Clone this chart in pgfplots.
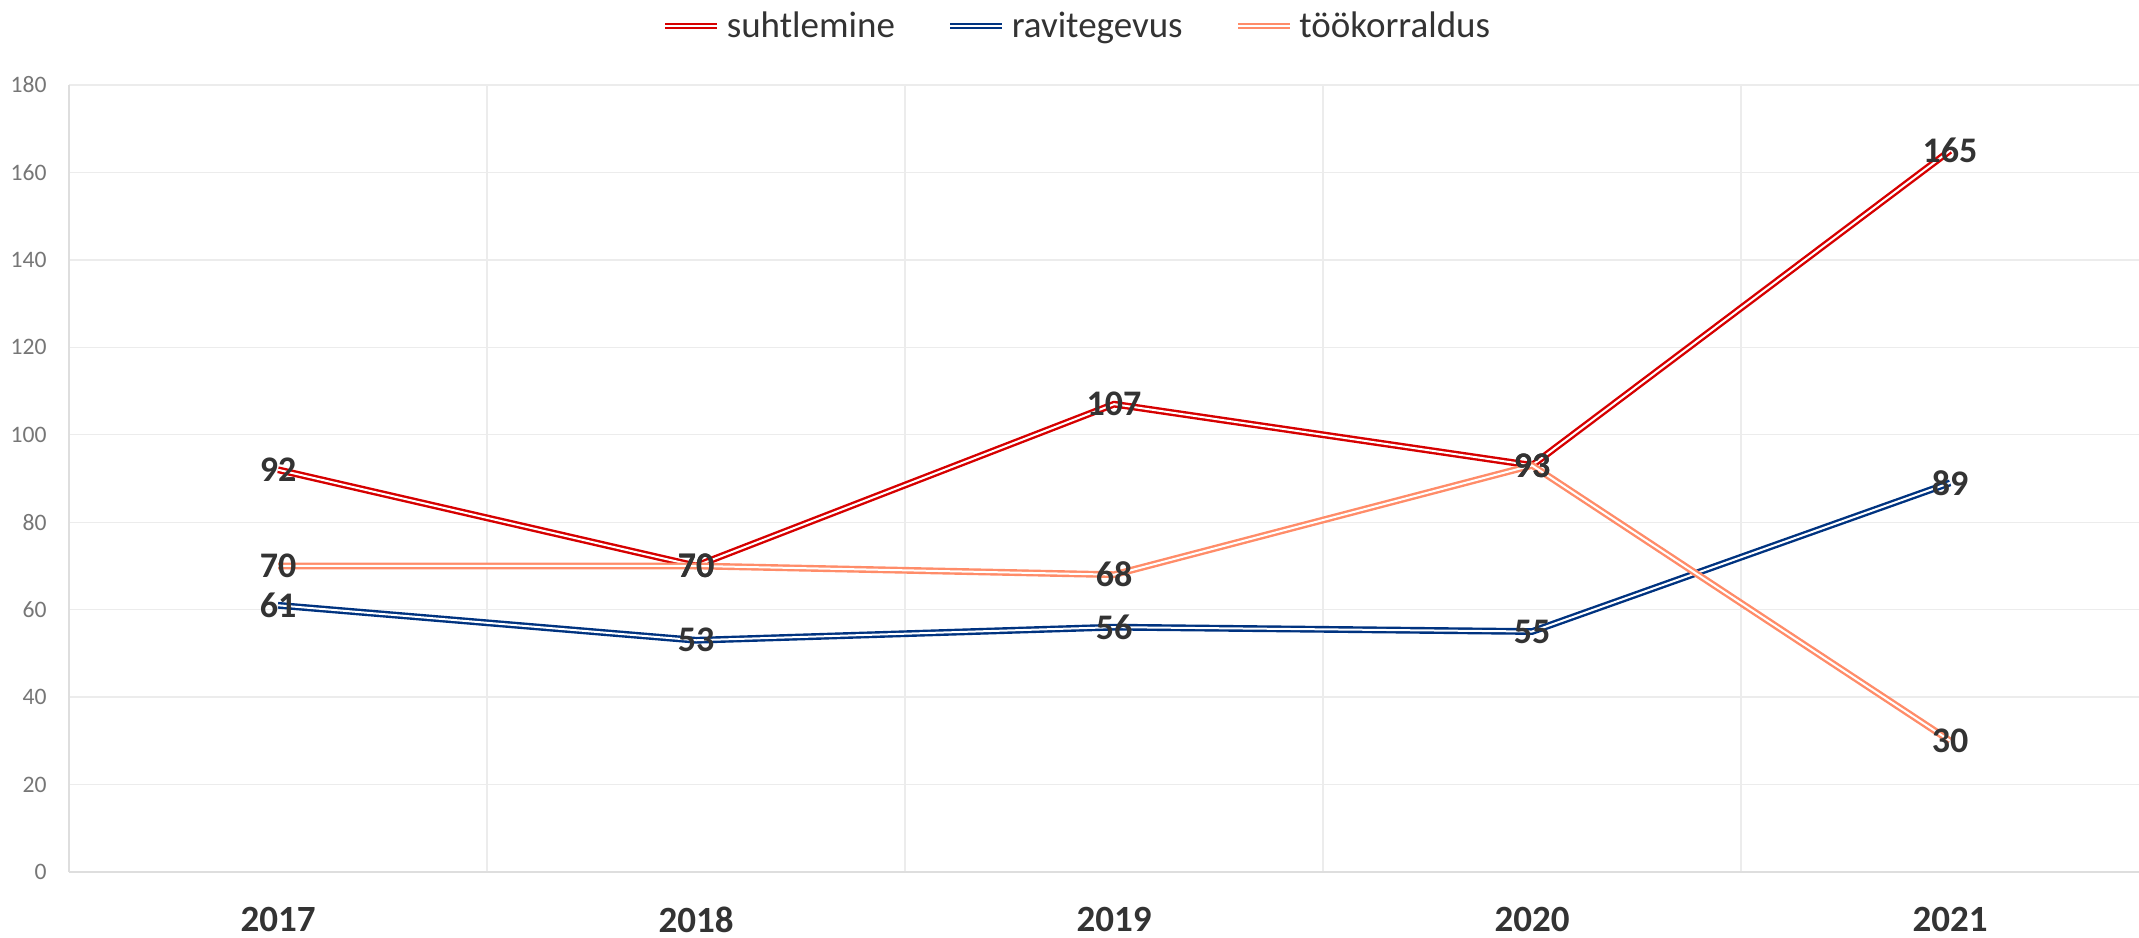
\documentclass[border=0pt]{standalone}
\usepackage{fontspec}
\setmainfont{Carlito}
\usepackage{pgfplots}
\pgfplotsset{compat=1.18}
\usepackage{pgfplotstable}

\definecolor{cRed}{RGB}{214,0,0}
\definecolor{cBlue}{RGB}{0,51,128}
\definecolor{cSalmon}{RGB}{255,140,105}
\definecolor{labelgray}{RGB}{51,51,51}
\definecolor{tickgray}{RGB}{118,118,118}
\definecolor{gridgray}{RGB}{236,236,236}
\definecolor{axisgray}{RGB}{222,222,222}

\pgfplotstableread{
x suht ravi took
0 92 61 70
1 70 53 70
2 107 56 68
3 93 55 93
4 165 89 30
}\datatable

\begin{document}
\begin{tikzpicture}
\begin{axis}[
  at={(0,0)}, anchor=south west,
  scale only axis,
  width=1035bp, height=393.5bp,
  xmin=-0.5, xmax=4.452,
  ymin=0, ymax=180,
  ytick={0,20,...,180},
  xtick={0,1,2,3,4},
  xticklabels={2017,2018,2019,2020,2021},
  minor xtick={0.5,1.5,2.5,3.5},
  xminorgrids=true,
  ymajorgrids=true,
  major grid style={draw=gridgray, line width=0.7bp},
  minor grid style={draw=gridgray, line width=0.7bp},
  axis x line*=bottom, axis y line*=left,
  axis line style={draw=axisgray, line width=0.8bp, -},
  major tick length=0pt, minor tick length=0pt,
  /pgf/number format/assume math mode=true,
  yticklabel style={font=\fontsize{11.8bp}{12bp}\selectfont, text=tickgray, anchor=east, inner sep=0pt, xshift=-11bp},
  xticklabel style={font=\bfseries\fontsize{18.5bp}{18.5bp}\selectfont, text=labelgray, anchor=north, inner sep=0pt, yshift=-17.5bp},
  clip=false,
  legend style={at={(rel axis cs:0.4865,1.075)}, anchor=center, draw=none, fill=none,
    font=\fontsize{18.5bp}{18.5bp}\selectfont, text=labelgray,
    /tikz/every odd column/.style={column sep=3bp},
    /tikz/every even column/.style={column sep=26bp},
    nodes={inner sep=0pt}},
  legend columns=3,
  legend image code/.code={\draw[#1] (0bp,0bp) -- (26bp,0bp);},
  every axis plot/.append style={line join=round},
  label style/.style={draw=none, forget plot, mark=none, nodes near coords,
    every node near coord/.append style={anchor=center, inner sep=0pt,
      font=\bfseries\fontsize{18bp}{18bp}\selectfont, text=labelgray}},
]
\addplot[cRed, line width=1.2bp, double=white, double distance=1.0bp, mark=none] table[x=x, y=suht] {\datatable};
\addlegendentry{suhtlemine}
\addplot[cBlue, line width=1.2bp, double=white, double distance=1.0bp, mark=none] table[x=x, y=ravi] {\datatable};
\addlegendentry{ravitegevus}
\addplot[cSalmon, line width=1.2bp, double=white, double distance=1.0bp, mark=none] table[x=x, y=took] {\datatable};
\addlegendentry{töökorraldus}

\addplot[label style] table[x=x, y=suht] {\datatable};
\addplot[label style] table[x=x, y=ravi] {\datatable};
\addplot[label style] table[x=x, y=took] {\datatable};
\end{axis}
\pgfresetboundingbox
\path[use as bounding box] (-34.5bp,-33bp) rectangle (1035bp,436bp);
\end{tikzpicture}
\end{document}
